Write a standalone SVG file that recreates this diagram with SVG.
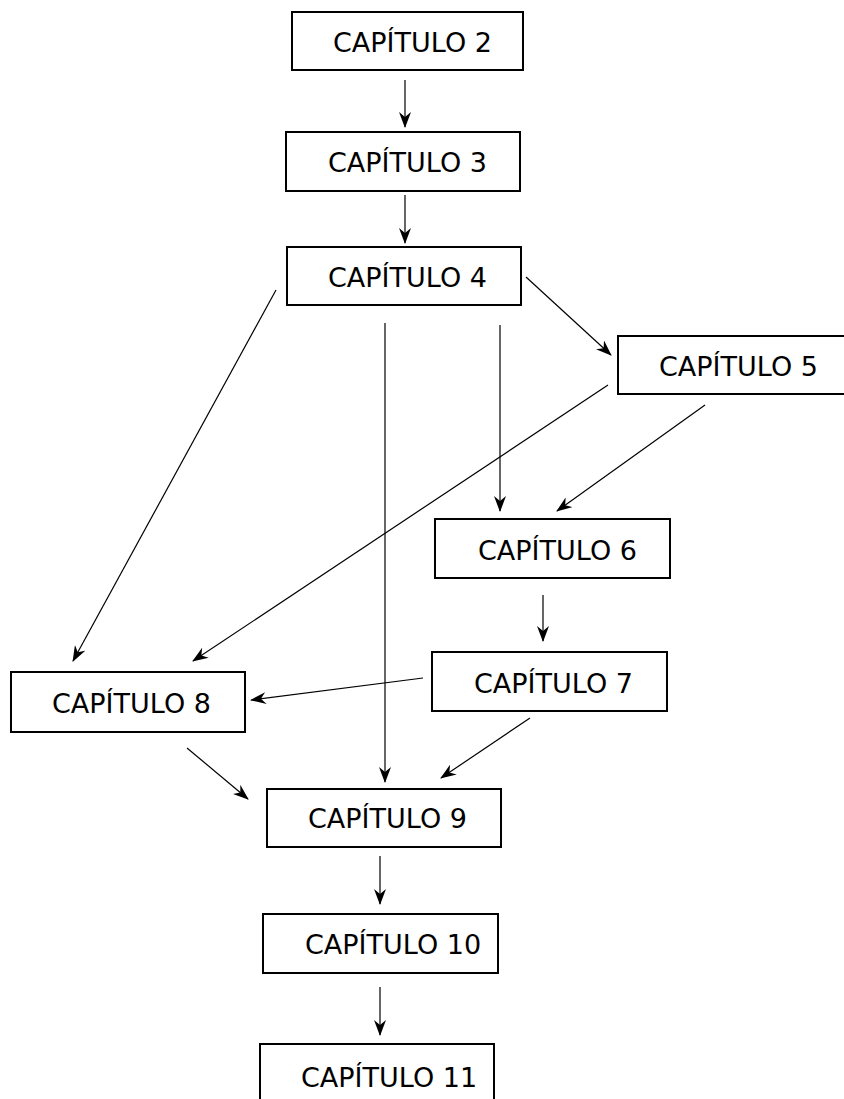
<svg xmlns="http://www.w3.org/2000/svg" width="844" height="1099" viewBox="0 0 844 1099">
<defs>
<style>
.box{fill:#fff;stroke:#000;stroke-width:2}
.lbl{font-family:"DejaVu Sans",sans-serif;font-size:27px;fill:#000}
.con{stroke:#000;stroke-width:1.2;fill:none;marker-end:url(#ah)}
</style>
<marker id="ah" viewBox="0 0 16 12" refX="15" refY="6" markerWidth="16" markerHeight="12" markerUnits="userSpaceOnUse" orient="auto">
<path d="M0,0 L16,6 L0,12 L5,6 z" fill="#000"/>
</marker>
</defs>
<rect width="844" height="1099" fill="#fff"/>
<g id="connectors">
<line class="con" x1="405" y1="80" x2="405" y2="127"/>
<line class="con" x1="405" y1="195" x2="405" y2="243"/>
<line class="con" x1="276" y1="290" x2="73" y2="661"/>
<line class="con" x1="385" y1="323" x2="385" y2="782"/>
<line class="con" x1="500" y1="325" x2="500" y2="511"/>
<line class="con" x1="526" y1="277" x2="611" y2="355"/>
<line class="con" x1="608" y1="385" x2="193" y2="661"/>
<line class="con" x1="705" y1="405" x2="557" y2="511"/>
<line class="con" x1="543" y1="595" x2="543" y2="641"/>
<line class="con" x1="423" y1="678" x2="251" y2="700"/>
<line class="con" x1="187" y1="748" x2="248" y2="799"/>
<line class="con" x1="530" y1="718" x2="441" y2="778"/>
<line class="con" x1="380" y1="856" x2="380" y2="904"/>
<line class="con" x1="380" y1="987" x2="380" y2="1035"/>
</g>
<g id="n2"><rect class="box" x="292" y="12" width="231" height="58"/><text class="lbl" x="333" y="52">CAPÍTULO 2</text></g>
<g id="n3"><rect class="box" x="286" y="132" width="234" height="59"/><text class="lbl" x="328" y="172">CAPÍTULO 3</text></g>
<g id="n4"><rect class="box" x="287" y="247" width="234" height="58"/><text class="lbl" x="328" y="287">CAPÍTULO 4</text></g>
<g id="n5"><rect class="box" x="618" y="336" width="230" height="58"/><text class="lbl" x="659" y="376">CAPÍTULO 5</text></g>
<g id="n6"><rect class="box" x="435" y="519" width="235" height="59"/><text class="lbl" x="478" y="560">CAPÍTULO 6</text></g>
<g id="n7"><rect class="box" x="432" y="652" width="235" height="59"/><text class="lbl" x="474" y="693">CAPÍTULO 7</text></g>
<g id="n8"><rect class="box" x="11" y="672" width="234" height="60"/><text class="lbl" x="52" y="713">CAPÍTULO 8</text></g>
<g id="n9"><rect class="box" x="267" y="789" width="234" height="58"/><text class="lbl" x="308" y="828">CAPÍTULO 9</text></g>
<g id="n10"><rect class="box" x="263" y="914" width="235" height="59"/><text class="lbl" x="305" y="954">CAPÍTULO 10</text></g>
<g id="n11"><rect class="box" x="260" y="1044" width="234" height="70"/><text class="lbl" x="301" y="1087">CAPÍTULO 11</text></g>
</svg>
